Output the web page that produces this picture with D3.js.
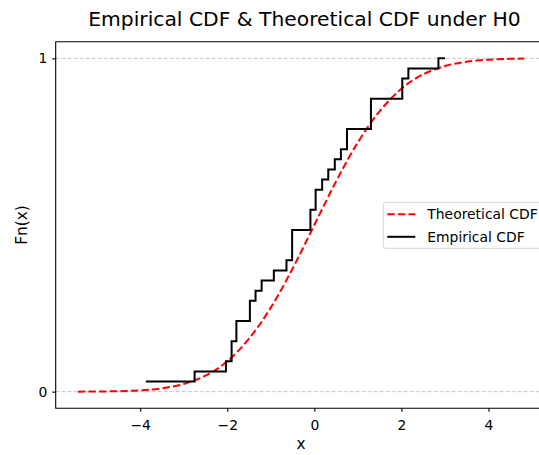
<!DOCTYPE html>
<html>
<head>
<meta charset="utf-8">
<script src="https://cdn.jsdelivr.net/npm/d3@7"></script>
<style>
  html, body { margin: 0; padding: 0; background: #ffffff; }
  svg { display: block; font-family: "DejaVu Sans", sans-serif; }
</style>
</head>
<body>
<svg id="chart" width="539" height="455"></svg>
<script>
// ---- data ----
// sorted sample values (n = 33); repeated values produce multi-level jumps
const sampleValues = [
  -3.87, -2.75, -2.03, -1.90, -1.90, -1.79, -1.79, -1.48, -1.48, -1.35,
  -1.21, -0.93, -0.64, -0.51, -0.51, -0.51, -0.09, -0.09, 0.03, 0.03,
  0.18, 0.32, 0.47, 0.61, 0.75, 0.75, 1.30, 1.30, 1.30, 2.02,
  2.02, 2.16, 2.85
];
const ecdfEndX = 3.00;           // last horizontal segment at level 1 ends here

// theoretical CDF curve
const theoX = [-5.43, -5.0, -4.5, -4.0, -3.5, -3.0, -2.5, -2.0, -1.5, -1.0, -0.5, 0.0,
               0.5, 1.0, 1.5, 2.0, 2.5, 3.0, 3.5, 4.0, 4.5, 4.82];
const theoY = [0.000, 0.0004, 0.0013, 0.004, 0.010, 0.023, 0.048, 0.091, 0.159, 0.252, 0.369, 0.500,
               0.631, 0.748, 0.841, 0.909, 0.952, 0.977, 0.990, 0.996, 0.9987, 0.9993];

const xTicks = [-4, -2, 0, 2, 4];
const yTicks = [0, 1];
const titleText = "Empirical CDF & Theoretical CDF under H0";
const xLabel = "x";
const yLabel = "Fn(x)";
const legendLabels = ["Theoretical CDF", "Empirical CDF"];

// ---- layout ----
const svg = d3.select("#chart");
const pLeft = 55.7, pRight = 546.4, pTop = 41.7, pBottom = 408.3;

const x = d3.scaleLinear().domain([-5.94, 5.33]).range([pLeft, pRight]);
const y = d3.scaleLinear().domain([-0.05, 1.05]).range([pBottom, pTop]);

// grid (y only)
svg.append("g").selectAll("line").data(yTicks).join("line")
  .attr("x1", pLeft).attr("x2", pRight)
  .attr("y1", d => y(d)).attr("y2", d => y(d))
  .attr("stroke", "#c8c8c8").attr("stroke-width", 1)
  .attr("stroke-dasharray", "4,2");

// ECDF points (step-after)
const n = sampleValues.length;
const ecdfPts = sampleValues.map((v, i) => [v, (i + 1) / n]);
ecdfPts.push([ecdfEndX, 1]);

const theoPts = theoX.map((v, i) => [v, theoY[i]]);

svg.append("path")
  .datum(theoPts)
  .attr("fill", "none")
  .attr("stroke", "#ff0000")
  .attr("stroke-width", 2)
  .attr("stroke-dasharray", "7.4,3.2")
  .attr("d", d3.line().x(d => x(d[0])).y(d => y(d[1])).curve(d3.curveMonotoneX));

svg.append("path")
  .datum(ecdfPts)
  .attr("fill", "none")
  .attr("stroke", "#000000")
  .attr("stroke-width", 2)
  .attr("d", d3.line().x(d => x(d[0])).y(d => y(d[1])).curve(d3.curveStepAfter));

// axes
const fmt = d => (d < 0 ? "\u2212" + Math.abs(d) : String(d));
const xAxis = svg.append("g").attr("transform", `translate(0,${pBottom})`)
  .call(d3.axisBottom(x).tickValues(xTicks).tickSize(3.5).tickPadding(8.8).tickFormat(fmt));
const yAxis = svg.append("g").attr("transform", `translate(${pLeft},0)`)
  .call(d3.axisLeft(y).tickValues(yTicks).tickSize(3.5).tickPadding(4.9).tickFormat(fmt));
[xAxis, yAxis].forEach(g => {
  g.select(".domain").remove();
  g.selectAll(".tick line").attr("stroke", "#000").attr("stroke-width", 1.1);
  g.selectAll(".tick text").attr("font-size", 13.9).attr("fill", "#000")
    .attr("font-family", "DejaVu Sans, sans-serif");
});

// spines (left, top, bottom; right is off-canvas)
svg.append("path")
  .attr("d", `M${pRight},${pTop}H${pLeft}V${pBottom}H${pRight}`)
  .attr("fill", "none").attr("stroke", "#000").attr("stroke-width", 1.1);

// title and labels
svg.append("text").attr("x", 304.5).attr("y", 26)
  .attr("text-anchor", "middle").attr("font-size", 20.3).attr("fill", "#000")
  .text(titleText);
svg.append("text").attr("x", (pLeft + pRight) / 2).attr("y", 449)
  .attr("text-anchor", "middle").attr("font-size", 15.3).attr("fill", "#000")
  .text(xLabel);
svg.append("text")
  .attr("transform", `translate(27,${(pTop + pBottom) / 2}) rotate(-90)`)
  .attr("text-anchor", "middle").attr("font-size", 15.3).attr("fill", "#000")
  .text(yLabel);

// legend
const lg = svg.append("g").attr("transform", "translate(383.3,202.3)");
lg.append("rect").attr("width", 160).attr("height", 46).attr("rx", 2.5)
  .attr("fill", "#fff").attr("fill-opacity", 0.8)
  .attr("stroke", "#d6d6d6").attr("stroke-width", 1);
const styles = [
  { color: "#ff0000", dash: "7.4,3.2" },
  { color: "#000000", dash: null }
];
legendLabels.forEach((lab, i) => {
  const cy = 12 + i * 22.5;
  lg.append("line").attr("x1", 4).attr("x2", 32).attr("y1", cy).attr("y2", cy)
    .attr("stroke", styles[i].color).attr("stroke-width", 2)
    .attr("stroke-dasharray", styles[i].dash);
  lg.append("text").attr("x", 44).attr("y", cy + 5).attr("font-size", 13.9)
    .attr("fill", "#000").text(lab);
});
</script>
</body>
</html>
